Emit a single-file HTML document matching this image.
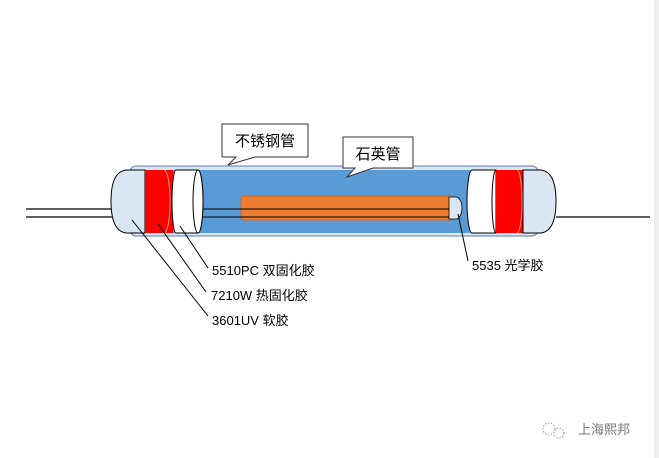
<!DOCTYPE html>
<html><head><meta charset="utf-8"><style>
html,body{margin:0;padding:0;background:#fff;}
svg{display:block}
text{font-family:"Liberation Sans","Noto Sans CJK SC",sans-serif;}
</style></head><body>
<svg width="659" height="458" viewBox="0 0 659 458" xmlns="http://www.w3.org/2000/svg">
<rect x="654" y="0" width="5" height="458" fill="#eeeeee"/>
<!-- wires -->
<line x1="26" y1="209" x2="113" y2="209" stroke="#000" stroke-width="1.2"/>
<line x1="26" y1="217" x2="113" y2="217" stroke="#000" stroke-width="1.2"/>
<line x1="556" y1="217" x2="650" y2="217" stroke="#000" stroke-width="1.2"/>
<!-- outer tube -->
<rect x="130" y="166" width="408" height="70" rx="6" fill="#dbe6f3" stroke="#5a7da8" stroke-width="1"/>
<rect x="133" y="170" width="404" height="63" fill="#5b9bd5"/>
<!-- orange -->
<rect x="241" y="196" width="212" height="24" rx="3" fill="#ed7d31" stroke="#c8692a" stroke-width="1"/>
<line x1="203" y1="209" x2="452" y2="209" stroke="#000" stroke-width="1"/>
<line x1="203" y1="217" x2="452" y2="217" stroke="#000" stroke-width="1"/>
<path d="M449 197 L456 197 A6 11 0 0 1 456 219 L449 219 Z" fill="#dbe6f3" stroke="#000" stroke-width="0.8"/>
<!-- left end -->
<path d="M145 170 L126 170 Q111 172 111 201 Q111 231 126 233 L145 233 Z" fill="#dbe6f3" stroke="#000" stroke-width="1"/>
<rect x="145" y="170" width="28" height="63" fill="#ff0000"/>
<path d="M164 170 A6 31 0 0 1 164 233" fill="none" stroke="#ff9a6a" stroke-width="1"/>
<path d="M176 170 L198 170 A5 31.5 0 0 1 198 233 L176 233 A4 31.5 0 0 1 176 170 Z" fill="#fff" stroke="#000" stroke-width="1"/>
<ellipse cx="198" cy="201.5" rx="5" ry="31.5" fill="#fff" stroke="#000" stroke-width="1"/>
<!-- right end -->
<path d="M472 170 L496 170 L496 233 L472 233 A5 31.5 0 0 1 472 170 Z" fill="#fff" stroke="#000" stroke-width="1"/>
<path d="M496 170 A4 31.5 0 0 0 496 233" fill="none" stroke="#000" stroke-width="1"/>
<rect x="496" y="170" width="28" height="63" fill="#ff0000"/>
<path d="M517 170 A5 31 0 0 1 517 233" fill="none" stroke="#ff9a6a" stroke-width="1"/>
<path d="M523 170 L541 170 Q556 172 556 201 Q556 231 541 233 L523 233 Z" fill="#dbe6f3" stroke="#000" stroke-width="1"/>
<!-- callouts -->
<path d="M222 124 L308 124 L308 157 L255 157 L228 165 L236 157 L222 157 Z" fill="#fff" stroke="#333" stroke-width="1"/>
<text x="265" y="146" font-size="15" text-anchor="middle" fill="#000">不锈钢管</text>
<path d="M343 137 L413 137 L413 168 L373 168 L347 177 L355 168 L343 168 Z" fill="#fff" stroke="#333" stroke-width="1"/>
<text x="378" y="159" font-size="15" text-anchor="middle" fill="#000">石英管</text>
<!-- leaders -->
<line x1="132" y1="220" x2="208" y2="316" stroke="#000" stroke-width="1"/>
<line x1="158" y1="224" x2="206" y2="292" stroke="#000" stroke-width="1"/>
<line x1="180" y1="226" x2="208" y2="268" stroke="#000" stroke-width="1"/>
<line x1="458" y1="214" x2="468" y2="261" stroke="#000" stroke-width="1"/>
<g font-size="13" fill="#000">
<text x="212" y="275">5510PC 双固化胶</text>
<text x="211" y="300">7210W 热固化胶</text>
<text x="212" y="325">3601UV 软胶</text>
<text x="472" y="270">5535 光学胶</text>
</g>
<!-- watermark -->
<g stroke="#888" stroke-width="0.8" fill="none" stroke-dasharray="1.5 1.5">
<circle cx="549" cy="429" r="6"/><circle cx="559" cy="433" r="5"/>
</g>
<text x="578" y="434" font-size="13" fill="#777">上海熙邦</text>
</svg>
</body></html>
